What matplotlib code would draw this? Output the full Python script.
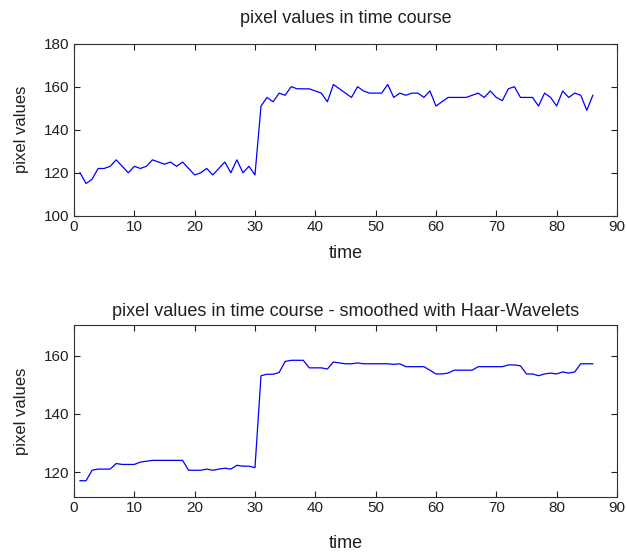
import numpy as np
import matplotlib.pyplot as plt

plt.rcParams['font.family'] = ['Liberation Sans', 'DejaVu Sans']

# time index (MATLAB style, starting at 1)
t = np.arange(1, 87)

# raw pixel values
raw = [120, 115, 117, 122, 122, 123, 126, 123, 120, 123,
       122, 123, 126, 125, 124, 125, 123, 125, 122, 119,
       120, 122, 119, 122, 125, 120, 126, 120, 123, 119,
       151, 155, 153, 157, 156, 160, 159, 159, 159, 158,
       157, 153, 161, 159, 157, 155, 160, 158, 157, 157,
       157, 161, 155, 157, 156, 157, 157, 155, 158, 151,
       153, 155, 155, 155, 155, 156, 157, 155, 158, 155,
       153.5, 159, 160, 155, 155, 155, 151, 157, 155, 151,
       158, 155, 157, 156, 149, 156]

# haar wavelet smoothed values
smooth = [117, 117, 120.6, 121, 121, 121, 122.9, 122.6, 122.6, 122.6,
          123.4, 123.7, 124, 124, 124, 124, 124, 124, 120.6, 120.6,
          120.6, 121, 120.6, 121, 121.3, 121, 122.3, 122, 122, 121.5,
          153.1, 153.6, 153.6, 154.2, 158, 158.4, 158.4, 158.4, 155.8, 155.8,
          155.8, 155.4, 157.8, 157.5, 157.2, 157.2, 157.5, 157.2, 157.2, 157.2,
          157.2, 157.2, 157, 157.2, 156.2, 156.2, 156.2, 156.2, 155, 153.7,
          153.7, 154, 155, 155, 155, 155, 156.2, 156.2, 156.2, 156.2,
          156.2, 156.8, 156.8, 156.5, 153.7, 153.7, 153.1, 153.7, 154, 153.7,
          154.4, 154, 154.4, 157.2, 157.2, 157.2]

fig = plt.figure(figsize=(6.27, 5.52), dpi=100)
ax1 = fig.add_axes([0.118, 0.609, 0.866, 0.312])
ax2 = fig.add_axes([0.118, 0.0996, 0.866, 0.312])

fs = 11
for ax in (ax1, ax2):
    ax.tick_params(direction='in', top=True, right=True, length=4,
                   width=0.8, labelsize=fs, pad=3, colors='#202020')
    ax.set_xlim(0, 90)
    ax.set_xticks(range(0, 91, 10))
    for s in ax.spines.values():
        s.set_linewidth(0.8)
        s.set_color('#303030')
    ax.set_ylabel('pixel values', fontsize=12, labelpad=11, color='#202020')

ax1.plot(t, raw, color='blue', lw=0.9)
ax1.set_ylim(100, 180)
ax1.set_yticks(range(100, 181, 20))
ax1.set_xlabel('time', fontsize=13, labelpad=8, color='#202020')
ax1.set_title('pixel values in time course', fontsize=13, pad=15,
              color='#202020')

ax2.plot(t, smooth, color='blue', lw=0.9)
ax2.set_ylim(111.4, 170.6)
ax2.set_yticks([120, 140, 160])
ax2.set_xlabel('time', fontsize=13, labelpad=14, color='#202020')
ax2.set_title('pixel values in time course - smoothed with Haar-Wavelets',
              fontsize=13, pad=6, color='#202020')

fig.savefig('out.png', dpi=100)
